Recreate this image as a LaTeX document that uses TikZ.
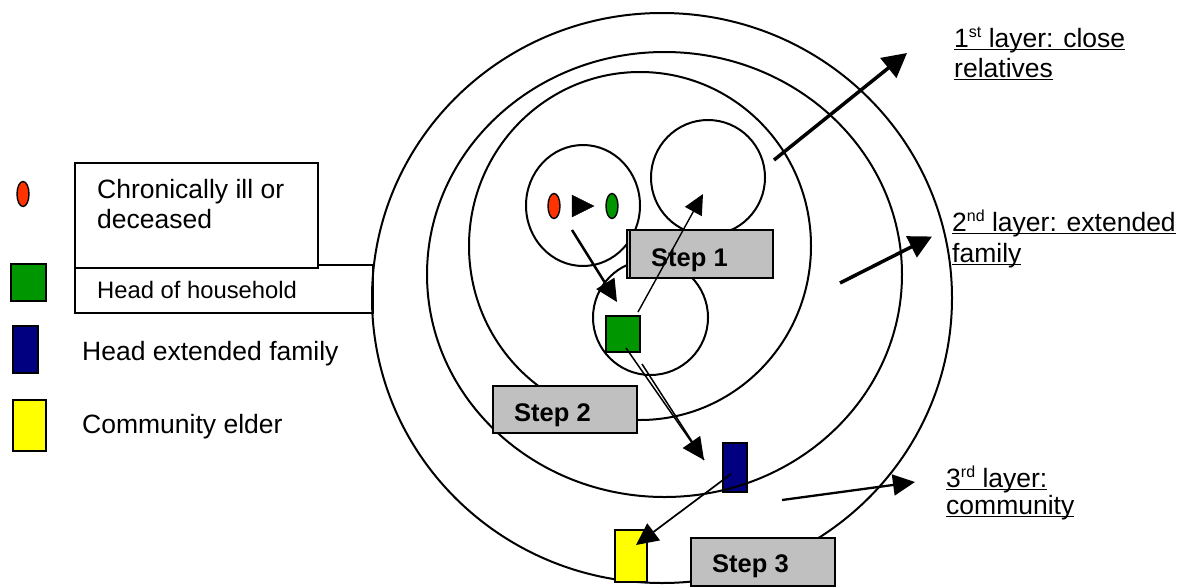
\documentclass[tikz,border=0pt]{standalone}
\usepackage{fontspec}
\setmainfont{Liberation Sans}
\usetikzlibrary{arrows.meta,shapes.geometric}
\definecolor{stepgray}{RGB}{192,192,192}
\definecolor{illred}{RGB}{255,51,0}
\definecolor{hhgreen}{RGB}{0,150,0}
\definecolor{extnavy}{RGB}{0,0,128}
\definecolor{elderyellow}{RGB}{255,255,0}
% underline sitting just under the baseline
\newcommand\layerline[1]{\setbox0\hbox{#1}\rlap{\vrule width\wd0 height -1.8pt depth 3.4pt}\box0}
% ordinal suffix
\newcommand\ordsup[1]{\raisebox{10pt}{\fontsize{16}{16}\selectfont #1}}
\begin{document}
\begin{tikzpicture}[x=1pt,y=-1pt,
  ring/.style={draw,line width=2pt},
  swatch/.style={draw,line width=1.4pt,inner sep=0pt,outer sep=0pt,anchor=north west},
  oval/.style={ellipse,draw,line width=1.4pt,inner sep=0pt,minimum width=12pt,minimum height=25pt},
  legbox/.style={draw,line width=1.8pt,inner sep=0pt,outer sep=0pt,anchor=north west},
  stepbox/.style={draw,line width=1.5pt,fill=stepgray,inner sep=0pt,outer sep=0pt,anchor=north west,minimum width=146pt,minimum height=48pt},
  steplabel/.style={font=\fontsize{25.5}{30}\selectfont\bfseries,anchor=base west,inner sep=0pt},
  legtext/.style={font=\fontsize{26.5}{30}\selectfont,anchor=base west,inner sep=0pt},
  bighead/.style={-{Triangle[length=22pt,width=21pt]}},
]
\useasboundingbox (0,0) rectangle (1192,587);

% ---------- legend ----------
\node[oval,fill=illred] (legIll) at (23,194) {};
\node[swatch,fill=hhgreen,minimum width=35pt,minimum height=37pt] (legHH) at (11,264) {};
\node[swatch,fill=extnavy,minimum width=25pt,minimum height=47pt] (legExt) at (13,326) {};
\node[swatch,fill=elderyellow,minimum width=33pt,minimum height=51pt] (legElder) at (13,400) {};

\node[legbox,minimum width=298pt,minimum height=48pt] (hhbox) at (75,265) {};
\node[legbox,fill=white,minimum width=243pt,minimum height=105pt] (illbox) at (75,163) {};

\node[legtext] (txtIll1) at (97,198) {Chronically ill or};
\node[legtext] (txtIll2) at (97,228) {deceased};
\node[legtext,font=\fontsize{23.8}{28}\selectfont] (txtHH) at (97,298) {Head of household};
\node[legtext] (txtExt) at (82,360) {Head extended family};
\node[legtext] (txtElder) at (82,433) {Community elder};

% ---------- rings ----------
\node[swatch,fill=extnavy,minimum width=24pt,minimum height=49pt] (ext) at (723,443) {};

\draw[ring] (662,298) ellipse [x radius=290, y radius=285];
\draw[ring] (664.5,274.5) ellipse [x radius=237.5, y radius=222.5];
\draw[ring] (640,246) ellipse [x radius=171, y radius=174];

\draw[ring] (583,205.5) ellipse [x radius=57, y radius=60.5];
\draw[ring] (708,177.5) ellipse [x radius=57, y radius=57.5];
\draw[ring] (650.5,317.5) ellipse [x radius=57.5, y radius=57.5];

% ---------- step boxes ----------
\node[stepbox] (step1back) at (627,230) {};
\node[stepbox,minimum width=143pt] (step1) at (630,230) {};
\node[steplabel] (step1txt) at (651,266) {Step 1};
\node[stepbox,minimum width=144pt,minimum height=47pt] (step2) at (493,386) {};
\node[steplabel] (step2txt) at (514,421) {Step 2};
\node[stepbox,minimum width=144pt,minimum height=48pt] (step3) at (691,538) {};
\node[steplabel] (step3txt) at (712,572) {Step 3};

% ---------- people ----------
\node[oval,fill=illred] (ill) at (554,206) {};
\node[oval,fill=hhgreen] (heir) at (612,206) {};
\draw[fill=black] (572,195) -- (572,217) -- (594,206) -- cycle;

\node[swatch,fill=hhgreen,minimum width=34pt,minimum height=36pt] (hh) at (606,316) {};
\node[swatch,fill=elderyellow,minimum width=32pt,minimum height=52pt] (elder) at (615,530) {};

% ---------- arrow ends ----------
\coordinate (famOut) at (572,230);
\coordinate (hhIn) at (617,302);
\coordinate (hhTop) at (638,312);
\coordinate (relIn) at (703,194);
\coordinate (hhLow1) at (626,348);
\coordinate (hhLow2) at (642,364);
\coordinate (extIn) at (704,460);
\coordinate (extOut) at (731,474);
\coordinate (elderIn) at (636,545);
\coordinate (r1from) at (774,160);
\coordinate (r1to) at (907,53);
\coordinate (r2from) at (840,283);
\coordinate (r2to) at (932,236.5);
\coordinate (r3from) at (782,500);
\coordinate (r3to) at (915,482);

% ---------- steps ----------
\draw[bighead,line width=2.5pt] (famOut) -- (hhIn);
\draw[-{Triangle[length=20pt,width=19pt]},line width=1.4pt] (hhTop) -- (relIn);
\draw[line width=1.5pt] (hhLow2) -- (extIn);
\draw[bighead,line width=1.5pt] (hhLow1) -- (extIn);
\draw[bighead,line width=1.7pt] (extOut) -- (elderIn);

% ---------- layer pointers ----------
\draw[-{Triangle[length=24pt,width=25pt]},line width=3.5pt] (r1from) -- (r1to);
\draw[-{Triangle[length=23pt,width=23pt]},line width=3.5pt] (r2from) -- (r2to);
\draw[bighead,line width=2.3pt] (r3from) -- (r3to);

\node[legtext] (lay1a) at (954,47) {\layerline{1\ordsup{st} layer: close}};
\node[legtext] (lay1b) at (954,77) {\layerline{relatives}};
\node[legtext] (lay2a) at (952,231) {\layerline{2\ordsup{nd} layer: extended}};
\node[legtext] (lay2b) at (952,262) {\layerline{family}};
\node[legtext] (lay3a) at (946,487) {\layerline{3\ordsup{rd} layer:}};
\node[legtext] (lay3b) at (946,514) {\layerline{community}};
\end{tikzpicture}
\end{document}
